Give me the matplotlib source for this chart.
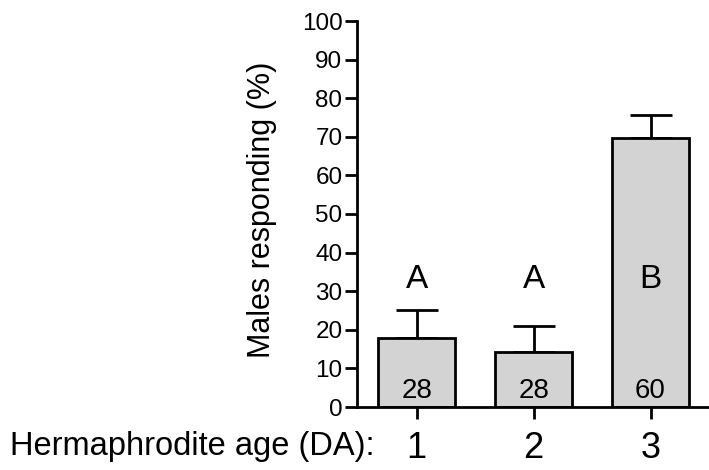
import numpy as np
import matplotlib.pyplot as plt

plt.rcParams['font.family'] = ['Liberation Sans', 'DejaVu Sans']

# Data
ages = ['1', '2', '3']
responding = [18, 14.3, 69.8]     # % males responding
sem = [7.1, 6.8, 5.9]             # upper error
letters = ['A', 'A', 'B']
n_worms = ['28', '28', '60']

x = np.arange(1, len(ages) + 1)

fig = plt.figure(figsize=(7.09, 4.70), dpi=100)
ax = fig.add_axes([357 / 709, 63 / 470, 1 - 357 / 709, 386 / 470])

ax.bar(x, responding, width=0.66, color='#d3d3d3', edgecolor='black',
       linewidth=2, zorder=2)
ax.errorbar(x, responding, yerr=[np.zeros(len(sem)), sem], fmt='none',
            ecolor='black', elinewidth=2, capsize=15, capthick=2, zorder=1)

# significance letters and sample sizes
for xi, let, n in zip(x, letters, n_worms):
    ax.text(xi, 30.8, let, ha='center', va='baseline', fontsize=24)
    ax.text(xi, 2.3, n, ha='center', va='baseline', fontsize=20)

ax.set_xlim(0.49, 3.5)
ax.set_ylim(0, 100)
ax.set_yticks(np.arange(0, 101, 10))
ax.set_xticks(x)
ax.set_xticklabels(ages, fontsize=26)
ax.tick_params(axis='y', labelsize=17.5, length=8.5, width=2, pad=2)
ax.tick_params(axis='x', length=8.5, width=2, pad=8.5)
ax.set_ylabel('Males responding (%)', fontsize=22)
ax.yaxis.set_label_coords(-0.227, 0.51)

ax.spines['top'].set_visible(False)
ax.spines['right'].set_visible(False)
ax.spines['left'].set_linewidth(2)
ax.spines['bottom'].set_linewidth(2)

fig.text(10 / 709, 15 / 470, 'Hermaphrodite age (DA):', ha='left',
         va='baseline', fontsize=23.5)

plt.savefig('out.png', dpi=100)
